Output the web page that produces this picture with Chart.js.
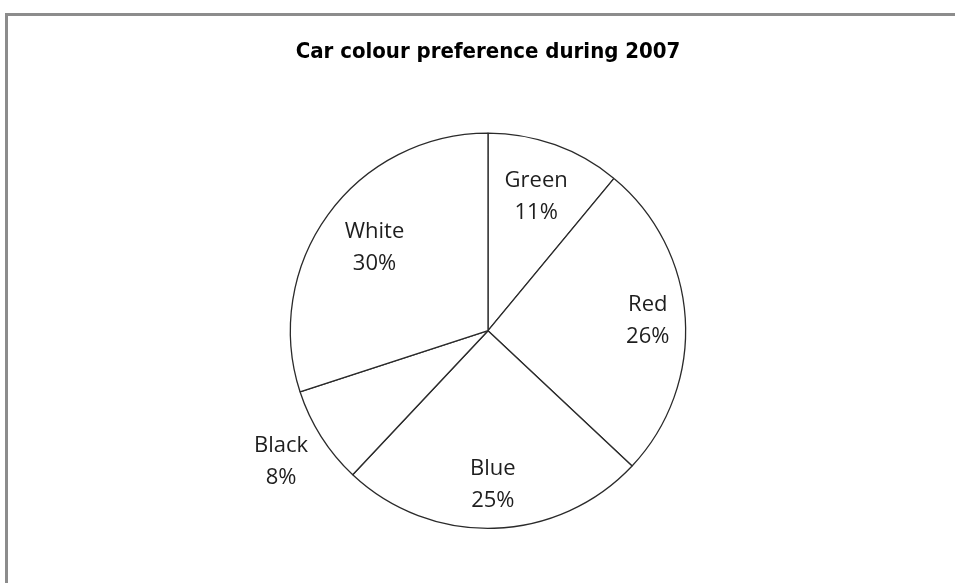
<!DOCTYPE html>
<html>
<head>
<meta charset="utf-8">
<script src="https://cdn.jsdelivr.net/npm/chart.js@4.4.1/dist/chart.umd.min.js"></script>
<style>
  html, body { margin: 0; padding: 0; background: #fff; }
  #wrap { position: relative; width: 955px; height: 583px; }
  #frame {
    position: absolute; left: 5px; top: 13px; right: 0; bottom: 0;
    border-left: 3px solid #8c8c8c; border-top: 3px solid #8c8c8c;
    pointer-events: none;
  }
</style>
</head>
<body>
<div id="wrap">
  <canvas id="pieChart" width="955" height="583"></canvas>
  <div id="frame"></div>
</div>
<script>
const colours = ['Green', 'Red', 'Blue', 'Black', 'White'];
const shares = [11, 26, 25, 8, 30];

// how far out each label sits, as a share of the radius
const labelRadius = [0.72, 0.81, 0.78, 1.24, 0.71];

const sliceLabels = {
  id: 'sliceLabels',
  afterDatasetsDraw(chart) {
    const ctx = chart.ctx;
    const meta = chart.getDatasetMeta(0);
    ctx.save();
    ctx.font = '22px "Open Sans"';
    ctx.fillStyle = '#1e1e1e';
    ctx.textAlign = 'center';
    ctx.textBaseline = 'middle';
    meta.data.forEach((arc, i) => {
      const p = arc.getProps(['x', 'y', 'startAngle', 'endAngle', 'outerRadius'], true);
      const mid = (p.startAngle + p.endAngle) / 2;
      const r = p.outerRadius * labelRadius[i];
      const x = p.x + Math.cos(mid) * r;
      const y = p.y + Math.sin(mid) * r;
      ctx.fillText(colours[i], x, y - 16);
      ctx.fillText(shares[i] + '%', x, y + 16);
    });
    ctx.restore();
  }
};

function draw() {
  new Chart(document.getElementById('pieChart'), {
    type: 'pie',
    data: {
      labels: colours,
      datasets: [{
        data: shares,
        backgroundColor: '#ffffff',
        borderColor: '#2a2a2a',
        borderWidth: 1.3,
        borderAlign: 'center'
      }]
    },
    options: {
      responsive: false,
      animation: false,
      events: [],
      layout: { padding: { top: 0, left: 21, right: 0, bottom: 54 } },
      plugins: {
        legend: { display: false },
        tooltip: { enabled: false },
        title: {
          display: true,
          text: 'Car colour preference during 2007',
          color: '#000',
          font: { family: '"DejaVu Sans Condensed", "Liberation Sans", sans-serif', size: 22, weight: 'bold', lineHeight: 1.2 },
          padding: { top: 39, bottom: 67 }
        }
      }
    },
    plugins: [sliceLabels]
  });
}

Promise.all([
  document.fonts.load('22px "Open Sans"'),
  document.fonts.load('bold 22px "DejaVu Sans Condensed"')
]).then(draw, draw);
</script>
</body>
</html>
